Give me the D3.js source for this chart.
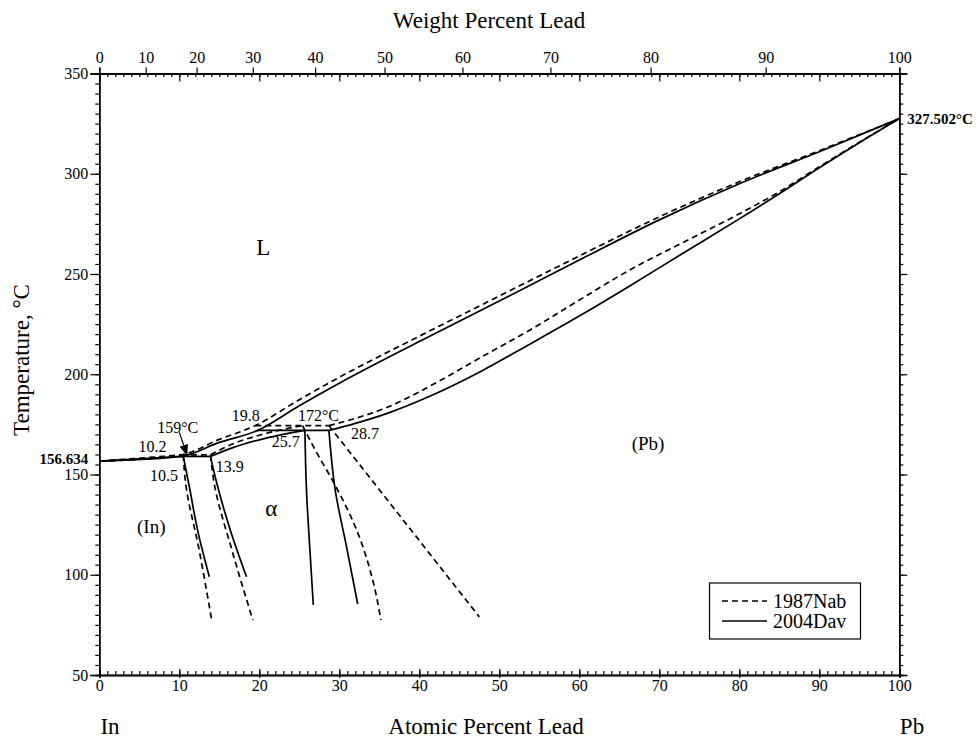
<!DOCTYPE html>
<html>
<head>
<meta charset="utf-8">
<script src="https://cdn.jsdelivr.net/npm/d3@7"></script>
<style>
  body { margin: 0; background: #fff; }
  svg text { font-family: "Liberation Serif", "Times New Roman", serif; fill: #000; }
</style>
</head>
<body>
<div id="chart"></div>
<script>
// In-Pb phase diagram, 1987Nab (dashed) vs 2004Dav (solid)

// atomic percent Pb, temperature in degC
var liquidusDav = [[0,156.634],[10.2,159],[15,166],[19.8,172],[25,184.3],[30,195.5],[40,216.3],[50,236.5],[60,257],[70,277],[80,295],[90,311],[100,327.502]];
var inSolidusDav = [[0,156.634],[10.5,159]];
var alphaSolidusDav = [[13.9,159],[16.7,163.4],[20,167.3],[25.7,172]];
var pbSolidusDav = [[28.7,172],[32,175.5],[36,180.5],[41.3,189],[47.5,201],[53.8,215],[60,229],[66.3,244],[72.6,259.5],[80,277.5],[85,290],[90,303],[95,315.5],[100,327.502]];
var inSolvusDav = [[10.5,159],[11.2,145],[12.3,122],[13.75,99]];
var alphaLeftDav = [[13.9,159],[14.6,147],[16.4,122],[18.4,99]];
var alphaRightDav = [[25.7,172],[25.9,142],[26.3,114],[26.75,85]];
var pbSolvusDav = [[28.7,172],[29.5,142],[30.9,114],[32.3,85.4]];
var peritecticLowDav = [[10.2,159],[13.9,159]];
var peritecticHighDav = [[19.8,172],[28.7,172]];

var liquidusNab = [[0,156.634],[10.2,159.8],[15,167.5],[19.5,174.4],[25,187.3],[30,198.5],[40,219],[50,239],[60,259],[70,278.5],[80,296],[90,311.5],[100,327.502]];
var inSolidusNab = [[0,156.634],[10.5,159.8]];
var alphaSolidusNab = [[13.9,159.8],[16.7,165.3],[20,169.6],[25.4,174.4]];
var pbSolidusNab = [[28.7,174.4],[32,178],[36,183.5],[41.3,194],[47.5,208],[53.8,222],[60,237],[66.3,252],[72.6,265],[80,280],[85,291],[90,303.5],[95,315.7],[100,327.502]];
var inSolvusNab = [[10.5,159.8],[10.75,147],[12.5,112],[14.05,77.4]];
var alphaLeftNab = [[13.9,159.8],[14.3,147],[16.6,112],[19.2,77.4]];
var alphaRightNab = [[25.4,174.4],[27.3,160],[29.3,146],[32.2,122],[34.2,97],[35.2,77.4]];
var pbSolvusNab = [[28.7,174.4],[47.5,79]];
var peritecticLowNab = [[10.2,159.8],[13.9,159.8]];
var peritecticHighNab = [[19.5,174.4],[28.7,174.4]];

var tempTicks = [50, 100, 150, 200, 250, 300, 350];
var atomicTicks = [0, 10, 20, 30, 40, 50, 60, 70, 80, 90, 100];
var weightTicks = [0, 10, 20, 30, 40, 50, 60, 70, 80, 90, 100];

var massIn = 114.818, massPb = 207.2;

var width = 980, height = 738;

var svg = d3.select("#chart").append("svg")
  .attr("width", width)
  .attr("height", height);

var x = d3.scaleLinear().domain([0, 100]).range([99.3, 899.3]);
var y = d3.scaleLinear().domain([50, 350]).range([675, 73.5]);

// weight percent -> atomic percent
function wtToAt(w) {
  var nPb = w / massPb, nIn = (100 - w) / massIn;
  return 100 * nPb / (nPb + nIn);
}

// axes: minor ticks first, then labelled majors
function styleAxis(g) {
  g.select(".domain").attr("stroke", "#000").attr("stroke-width", 1.5);
  g.selectAll(".tick line").attr("stroke", "#000").attr("stroke-width", 1.2);
  g.selectAll(".tick text").attr("font-size", 16).attr("fill", "#000")
    .attr("font-family", "Liberation Serif");
}

// left
svg.append("g").attr("transform", "translate(" + x(0) + ",0)")
  .call(d3.axisLeft(y).tickValues(d3.range(50, 351, 5)).tickSize(4).tickFormat(""))
  .call(styleAxis);
svg.append("g").attr("transform", "translate(" + x(0) + ",0)")
  .call(d3.axisLeft(y).tickValues(tempTicks).tickSize(9).tickPadding(2))
  .call(styleAxis);

// right
svg.append("g").attr("transform", "translate(" + x(100) + ",0)")
  .call(d3.axisRight(y).tickValues(d3.range(50, 351, 5)).tickSize(4).tickFormat(""))
  .call(styleAxis);
svg.append("g").attr("transform", "translate(" + x(100) + ",0)")
  .call(d3.axisRight(y).tickValues(tempTicks).tickSize(8).tickFormat(""))
  .call(styleAxis);

// bottom
svg.append("g").attr("transform", "translate(0," + y(50) + ")")
  .call(d3.axisTop(x).tickValues(d3.range(0, 101, 1)).tickSize(4).tickFormat(""))
  .call(styleAxis);
svg.append("g").attr("transform", "translate(0," + y(50) + ")")
  .call(d3.axisBottom(x).tickValues(atomicTicks).tickSize(3).tickPadding(2))
  .call(styleAxis);
svg.append("g").attr("transform", "translate(0," + y(50) + ")")
  .call(d3.axisTop(x).tickValues(atomicTicks).tickSize(6).tickFormat(""))
  .call(styleAxis);

// top: atomic ticks inward, weight percent labelled outward
svg.append("g").attr("transform", "translate(0," + y(350) + ")")
  .call(d3.axisBottom(x).tickValues(d3.range(0, 101, 1)).tickSize(3.5).tickFormat(""))
  .call(styleAxis);
svg.append("g").attr("transform", "translate(0," + y(350) + ")")
  .call(d3.axisBottom(x).tickValues(atomicTicks).tickSize(8).tickFormat(""))
  .call(styleAxis);
svg.append("g").attr("transform", "translate(0," + y(350) + ")")
  .call(d3.axisTop(x).tickValues(weightTicks.map(wtToAt)).tickSize(6).tickPadding(5)
    .tickFormat(function(d, i) { return weightTicks[i]; }))
  .call(styleAxis);

// phase boundaries: liquidus/solidus run along x, solvus lines run along y
var lineX = d3.line()
  .x(function(d) { return x(d[0]); })
  .y(function(d) { return y(d[1]); })
  .curve(d3.curveMonotoneX);
var lineY = d3.line()
  .x(function(d) { return x(d[0]); })
  .y(function(d) { return y(d[1]); })
  .curve(d3.curveMonotoneY);

var nabAlongX = [liquidusNab, inSolidusNab, alphaSolidusNab, pbSolidusNab, peritecticLowNab, peritecticHighNab];
var nabAlongY = [inSolvusNab, alphaLeftNab, alphaRightNab, pbSolvusNab];
var davAlongX = [liquidusDav, inSolidusDav, alphaSolidusDav, pbSolidusDav, peritecticLowDav, peritecticHighDav];
var davAlongY = [inSolvusDav, alphaLeftDav, alphaRightDav, pbSolvusDav];

function drawCurves(data, gen, dash) {
  svg.append("g").selectAll("path")
    .data(data)
    .enter().append("path")
    .attr("d", gen)
    .attr("fill", "none")
    .attr("stroke", "#000")
    .attr("stroke-width", 1.7)
    .attr("stroke-dasharray", dash);
}
drawCurves(nabAlongX, lineX, "6,4");
drawCurves(nabAlongY, lineY, "6,4");
drawCurves(davAlongX, lineX, null);
drawCurves(davAlongY, lineY, null);

// axis titles
svg.append("text").attr("x", 489).attr("y", 28).attr("text-anchor", "middle")
  .attr("font-size", 23).attr("fill", "#000").text("Weight Percent Lead");
svg.append("text").attr("x", 486).attr("y", 734).attr("text-anchor", "middle")
  .attr("font-size", 23).attr("fill", "#000").text("Atomic Percent Lead");
svg.append("text").attr("x", 110).attr("y", 734).attr("text-anchor", "middle")
  .attr("font-size", 23).attr("fill", "#000").text("In");
svg.append("text").attr("x", 912).attr("y", 734).attr("text-anchor", "middle")
  .attr("font-size", 23).attr("fill", "#000").text("Pb");
svg.append("text")
  .attr("transform", "translate(29,360) rotate(-90)")
  .attr("text-anchor", "middle")
  .attr("font-size", 23).attr("fill", "#000").text("Temperature, °C");

// melting points
svg.append("text").attr("x", x(0) - 11).attr("y", y(156.634)).attr("dy", "0.2em")
  .attr("text-anchor", "end").attr("font-size", 15).attr("font-weight", "bold")
  .attr("fill", "#000").text("156.634");
svg.append("text").attr("x", x(100) + 8).attr("y", y(327.502)).attr("dy", "0.35em")
  .attr("font-size", 15).attr("font-weight", "bold").attr("fill", "#000").text("327.502°C");

// region and point labels (data coords)
var labels = [
  ["L", 20.5, 263.5, 23],
  ["(Pb)", 68.6, 165.6, 19],
  ["(In)", 6.5, 124.2, 19],
  ["α", 21.5, 133.5, 23],
  ["159°C", 9.8, 173.7, 16],
  ["10.2", 6.65, 163.9, 16],
  ["10.5", 8.1, 149.8, 16],
  ["13.9", 16.3, 153.9, 16],
  ["19.8", 18.3, 179.6, 16],
  ["172°C", 27.4, 179.6, 16],
  ["25.7", 23.3, 166.3, 16],
  ["28.7", 33.2, 170.5, 16]
];
svg.append("g").selectAll("text")
  .data(labels)
  .enter().append("text")
  .attr("x", function(d) { return x(d[1]); })
  .attr("y", function(d) { return y(d[2]); })
  .attr("dy", "0.35em")
  .attr("text-anchor", "middle")
  .attr("font-size", function(d) { return d[3]; })
  .attr("fill", "#000")
  .text(function(d) { return d[0]; });

// arrow to the 159 degC peritectic
svg.append("defs").append("marker")
  .attr("id", "arrow")
  .attr("viewBox", "0 0 10 10")
  .attr("refX", 10).attr("refY", 5)
  .attr("markerWidth", 11).attr("markerHeight", 11)
  .attr("markerUnits", "userSpaceOnUse")
  .attr("orient", "auto")
  .append("path").attr("d", "M0,1L10,5L0,9Z").attr("fill", "#000");
svg.append("line")
  .attr("x1", x(10.0)).attr("y1", y(171))
  .attr("x2", x(11.0)).attr("y2", y(159.4))
  .attr("stroke", "#000").attr("stroke-width", 1.2)
  .attr("marker-end", "url(#arrow)");

// legend
var legend = svg.append("g");
legend.append("rect")
  .attr("x", 709.5).attr("y", 583).attr("width", 151).attr("height", 56)
  .attr("fill", "#fff").attr("stroke", "#000").attr("stroke-width", 1.2);
var legendItems = [["1987Nab", "6,4"], ["2004Dav", null]];
legendItems.forEach(function(d, i) {
  var ly = 601 + i * 20;
  legend.append("line")
    .attr("x1", 722).attr("x2", 767).attr("y1", ly).attr("y2", ly)
    .attr("stroke", "#000").attr("stroke-width", 1.7)
    .attr("stroke-dasharray", d[1]);
  legend.append("text").attr("x", 773).attr("y", ly).attr("dy", "0.35em")
    .attr("font-size", 20).attr("fill", "#000").text(d[0]);
});
</script>
</body>
</html>
